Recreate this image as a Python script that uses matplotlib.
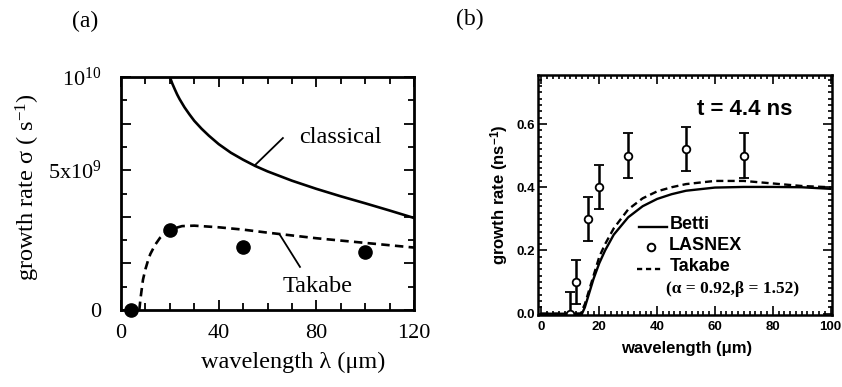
import matplotlib
matplotlib.use("Agg")
import matplotlib.pyplot as plt
from matplotlib.ticker import MultipleLocator, FixedLocator, FixedFormatter, FormatStrFormatter

plt.rcParams["mathtext.fontset"] = "custom"
plt.rcParams["mathtext.rm"] = "Liberation Serif"
plt.rcParams["mathtext.it"] = "Liberation Serif:italic"
plt.rcParams["mathtext.bf"] = "Liberation Sans:bold"

# ---------------- data: panel (a) ----------------
classical_x = [20, 21, 22, 23, 24, 26, 28, 30, 33, 36, 40, 45, 50, 55, 60, 70, 80, 90, 100, 110, 120]
classical_y = [10.0, 9.72, 9.48, 9.25, 9.05, 8.7, 8.4, 8.12, 7.78, 7.48, 7.12, 6.75, 6.45,
               6.18, 5.95, 5.55, 5.2, 4.88, 4.58, 4.27, 3.95]

takabe_a_x = [7.5, 8, 9, 10, 11, 12, 14, 16, 18, 20, 25, 30, 40, 50, 60, 70, 80, 90, 100, 110, 120]
takabe_a_y = [0.0, 0.5, 1.3, 1.75, 2.1, 2.4, 2.8, 3.1, 3.3, 3.45, 3.6, 3.62, 3.55, 3.45, 3.32,
              3.2, 3.08, 2.98, 2.88, 2.78, 2.68]

sim_a_x = [4, 20, 50, 100]
sim_a_y = [0.0, 3.43, 2.7, 2.5]

a_xticks = [0, 40, 80, 120]
a_ytick_pos = [0, 2, 4, 6, 8, 10]
a_yticklabels = ["0", "", "", r"5x10$^{9}$", "", r"10$^{10}$"]

# ---------------- data: panel (b) ----------------
betti_x = [0, 14, 15, 16, 17, 18, 20, 22, 25, 30, 35, 40, 45, 50, 60, 70, 80, 90, 100]
betti_y = [0, 0, 0.02, 0.05, 0.08, 0.11, 0.16, 0.2, 0.25, 0.305, 0.34, 0.363, 0.378, 0.389,
           0.399, 0.401, 0.401, 0.4, 0.395]

takabe_b_x = [0, 13.5, 15, 16, 17, 18, 20, 22, 25, 30, 35, 40, 45, 50, 60, 70, 80, 90, 100]
takabe_b_y = [0, 0, 0.03, 0.06, 0.09, 0.12, 0.18, 0.22, 0.27, 0.33, 0.365, 0.387, 0.4, 0.41,
              0.42, 0.42, 0.412, 0.404, 0.4]

lasnex_x = [10, 12, 16, 20, 30, 50, 70]
lasnex_y = [0.0, 0.1, 0.3, 0.4, 0.5, 0.52, 0.5]
lasnex_err = [0.07, 0.07, 0.07, 0.07, 0.07, 0.07, 0.07]

SERIF = "Liberation Serif"
SANS = "Liberation Sans"

fig = plt.figure(figsize=(8.42, 3.87), dpi=100)

# ================= panel (a) =================
ax = fig.add_axes([121 / 842, 1 - 310 / 387, 293 / 842, 233 / 387])
ax.plot(classical_x, classical_y, color="black", lw=1.9)
ax.plot(takabe_a_x, takabe_a_y, color="black", lw=1.9, dashes=(3.2, 2.0))
ax.plot(sim_a_x, sim_a_y, "o", color="black", ms=9.5, clip_on=False, zorder=5)

ax.set_xlim(0, 120)
ax.set_ylim(0, 10)
ax.xaxis.set_major_locator(FixedLocator(a_xticks))
ax.xaxis.set_minor_locator(MultipleLocator(10))
ax.yaxis.set_major_locator(FixedLocator(a_ytick_pos))
ax.yaxis.set_major_formatter(FixedFormatter(a_yticklabels))
ax.yaxis.set_minor_locator(MultipleLocator(1))
ax.tick_params(which="both", direction="in", top=True, right=True, width=1.3, labelsize=16)
ax.tick_params(which="major", length=7)
ax.tick_params(which="minor", length=4)
ax.tick_params(axis="x", which="minor", length=5)
ax.tick_params(axis="x", which="major", pad=10)
ax.tick_params(axis="y", which="major", pad=14)
for lab in ax.get_xticklabels() + ax.get_yticklabels():
    lab.set_fontfamily(SERIF)
for s in ax.spines.values():
    s.set_linewidth(2.0)

ax.set_xlabel("wavelength λ (μm)", fontsize=17.5, family=SERIF)
ax.set_ylabel(r"growth rate σ ( s$^{-1}$)", fontsize=17.5, family=SERIF)
ax.xaxis.label.set_va("center")
ax.yaxis.label.set_va("center")
ax.xaxis.set_label_coords(0.587, -0.223)
ax.yaxis.set_label_coords(-0.317, 0.528)

ax.text(89.7, 7.42, "classical", fontsize=17.5, family=SERIF, ha="center", va="center")
ax.plot([66.3, 54.9], [7.38, 6.22], color="black", lw=1.3)
ax.text(80.7, 0.99, "Takabe", fontsize=17.5, family=SERIF, ha="center", va="center")
ax.plot([65.1, 73.3], [3.22, 1.85], color="black", lw=1.3)

fig.text(85 / 842, 1 - 21 / 387, "(a)", fontsize=17, family=SERIF, ha="center", va="center")

# ================= panel (b) =================
bx = fig.add_axes([538 / 842, 1 - 315 / 387, 294 / 842, 240 / 387])
bx.plot(betti_x, betti_y, color="black", lw=1.7)
bx.plot(takabe_b_x, takabe_b_y, color="black", lw=1.7, dashes=(3.0, 1.8))
bx.errorbar(lasnex_x, lasnex_y, yerr=lasnex_err, fmt="o", mfc="white", mec="black",
            ms=5.5, mew=1.3, ecolor="black", elinewidth=1.8, capsize=3.5, capthick=1.5)

bx.set_xlim(-1.2, 100.5)
bx.set_ylim(-0.004, 0.755)
bx.xaxis.set_major_locator(MultipleLocator(20))
bx.xaxis.set_minor_locator(MultipleLocator(2))
bx.yaxis.set_major_locator(MultipleLocator(0.2))
bx.yaxis.set_minor_locator(MultipleLocator(0.02))
bx.yaxis.set_major_formatter(FormatStrFormatter("%.1f"))
bx.tick_params(which="both", direction="in", top=True, right=True, width=1.2, labelsize=9.5)
bx.tick_params(axis="x", pad=4)
bx.tick_params(axis="y", pad=2)
bx.tick_params(which="major", length=6.5)
bx.tick_params(which="minor", length=3)
for lab in bx.get_xticklabels() + bx.get_yticklabels():
    lab.set_fontfamily(SANS)
    lab.set_fontweight("bold")
for s in bx.spines.values():
    s.set_linewidth(1.8)

bx.set_xlabel("wavelength (μm)", fontsize=12, family=SANS, fontweight="bold")
bx.set_ylabel(r"growth rate (ns$^{\mathbf{-1}}$)", fontsize=12, family=SANS, fontweight="bold")
bx.xaxis.label.set_va("center")
bx.yaxis.label.set_va("center")
bx.xaxis.set_label_coords(0.505, -0.1375)
bx.yaxis.set_label_coords(-0.128, 0.5)

bx.text(70.3, 0.647, "t = 4.4 ns", fontsize=16, family=SANS, fontweight="bold",
        ha="center", va="center")

# legend drawn by hand
bx.plot([33.8, 43.5], [0.275, 0.275], color="black", lw=1.7)
bx.text(44.5, 0.281, "Betti", fontsize=13, family=SANS, fontweight="bold", va="center")
bx.plot([37.9], [0.21], "o", mfc="white", mec="black", ms=5.5, mew=1.4)
bx.text(44.2, 0.215, "LASNEX", fontsize=13, family=SANS, fontweight="bold", va="center")
bx.plot([33.2, 42.0], [0.143, 0.143], color="black", lw=1.7, dashes=(2.2, 1.6))
bx.text(44.5, 0.149, "Takabe", fontsize=13, family=SANS, fontweight="bold", va="center")
bx.text(43.1, 0.079, "(α = 0.92,β = 1.52)", fontsize=12.5, family=SERIF,
        fontweight="bold", va="center")

fig.text(470 / 842, 1 - 19 / 387, "(b)", fontsize=17, family=SERIF, ha="center", va="center")

fig.savefig("out.png", dpi=100)
